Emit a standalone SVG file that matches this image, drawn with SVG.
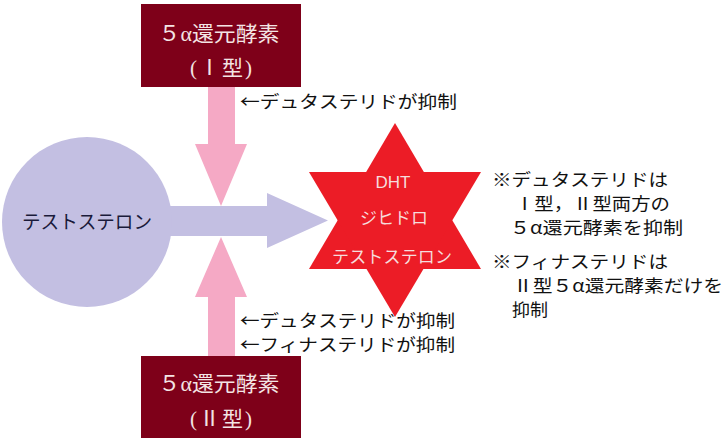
<svg xmlns="http://www.w3.org/2000/svg" width="728" height="444" viewBox="0 0 728 444">
<style>
.box{fill:#7e0019}
.btxt{fill:#f4e4e4;font-family:"Liberation Serif","Noto Sans CJK JP",serif;font-size:21px;text-anchor:middle}
.lbl{fill:#111;font-family:"Noto Sans CJK JP","Noto Sans CJK SC",sans-serif;font-size:17.5px}
.star{fill:#ec1c26}
.stxt{fill:#f6dcdc;font-family:"Liberation Sans","Noto Sans CJK JP",sans-serif;font-size:17px;text-anchor:middle}
.pink{fill:#f5a9c5}
.purple{fill:#c3bfe2}
</style>
<rect width="728" height="444" fill="#ffffff"/>
<g id="connectors">
  <path class="purple" d="M160,206 H267 V193 L328,220.5 L267,248 V236 H160 Z"/>
  <path class="pink" d="M208,86 H235 V144 H247 L221,206 L195,144 H208 Z"/>
  <path class="pink" d="M208,357 H235 V297 H247 L221,237 L195,297 H208 Z"/>
</g>
<g id="testosterone">
  <circle class="purple" cx="87" cy="222" r="85"/>
  <text x="87" y="228.5" text-anchor="middle" fill="#1a1a3a" font-family="Noto Sans CJK JP, sans-serif" font-size="19" textLength="130" lengthAdjust="spacingAndGlyphs">テストステロン</text>
</g>
<g id="enzyme1">
  <rect class="box" x="141" y="4" width="160" height="83"/>
  <text class="btxt" x="219" y="40.5" textLength="121" lengthAdjust="spacingAndGlyphs">５α還元酵素</text>
  <text class="btxt" x="221" y="74.5" textLength="62">(Ⅰ型)</text>
</g>
<g id="enzyme2">
  <rect class="box" x="141" y="356" width="160" height="82"/>
  <text class="btxt" x="219" y="390.5" textLength="121" lengthAdjust="spacingAndGlyphs">５α還元酵素</text>
  <text class="btxt" x="221" y="425.5" textLength="62">(Ⅱ型)</text>
</g>
<g id="dht">
  <polygon class="star" points="395,123 481,269 309,269"/>
  <polygon class="star" points="309,172 481,172 395,317"/>
  <text class="stxt" x="393" y="188">DHT</text>
  <text class="stxt" x="394" y="224" textLength="68">ジヒドロ</text>
  <text class="stxt" x="392" y="263" textLength="120">テストステロン</text>
</g>
<g id="labels">
  <text class="lbl" x="240" y="107.5" textLength="217" lengthAdjust="spacingAndGlyphs">←デュタステリドが抑制</text>
  <text class="lbl" x="240" y="327" textLength="215" lengthAdjust="spacingAndGlyphs">←デュタステリドが抑制</text>
  <text class="lbl" x="240" y="351" textLength="215" lengthAdjust="spacingAndGlyphs">←フィナステリドが抑制</text>
</g>
<g id="notes">
  <text class="lbl" x="492" y="185.5" textLength="176" lengthAdjust="spacingAndGlyphs">※デュタステリドは</text>
  <text class="lbl" x="515" y="209.5" textLength="155" lengthAdjust="spacingAndGlyphs">Ⅰ型，Ⅱ型両方の</text>
  <text class="lbl" x="510" y="234" textLength="173" lengthAdjust="spacingAndGlyphs">５α還元酵素を抑制</text>
  <text class="lbl" x="492" y="267.5" textLength="176" lengthAdjust="spacingAndGlyphs">※フィナステリドは</text>
  <text class="lbl" x="513" y="291.5" textLength="210" lengthAdjust="spacingAndGlyphs">Ⅱ型５α還元酵素だけを</text>
  <text class="lbl" x="512" y="316" textLength="36" lengthAdjust="spacingAndGlyphs">抑制</text>
</g>
</svg>
